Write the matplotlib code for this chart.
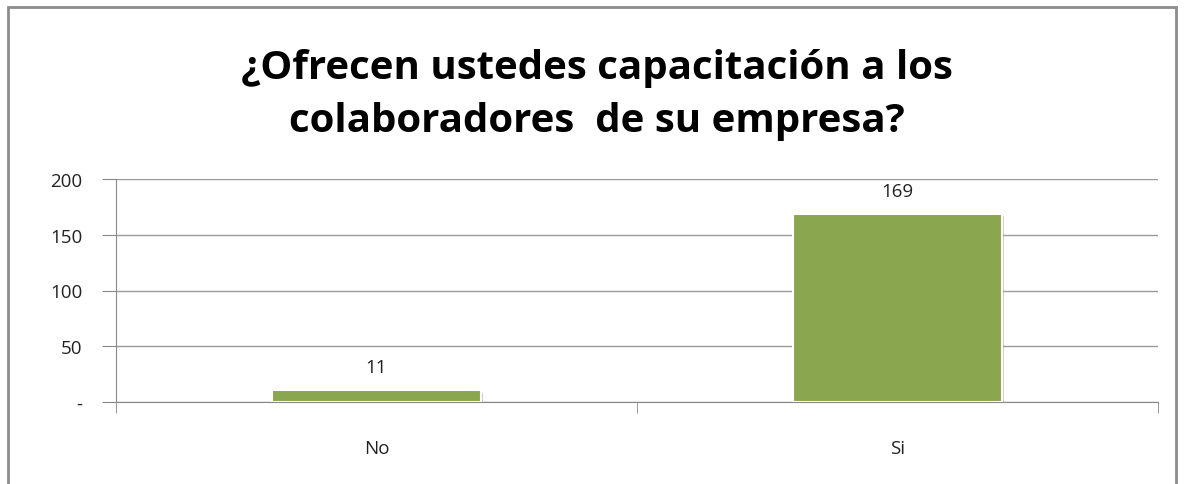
import matplotlib
matplotlib.use("Agg")
from matplotlib import pyplot as plt
from matplotlib.patches import Rectangle
import matplotlib.patheffects as pe

categories = ["No", "Si"]
values = [11, 169]
yticks = [0, 50, 100, 150, 200]
ytick_labels = ["-", "50", "100", "150", "200"]
title = "¿Ofrecen ustedes capacitación a los\ncolaboradores  de su empresa?"

plt.rcParams["font.family"] = ["Open Sans", "DejaVu Sans"]

fig = plt.figure(figsize=(11.86, 4.85), dpi=100)
fig.patches.append(Rectangle((8 / 1186, -0.05), (1176 - 8) / 1186, 1.05 - 8 / 485,
                             transform=fig.transFigure, fill=False,
                             edgecolor="#8c8c8c", linewidth=2))

ax = fig.add_axes([116 / 1186, 1 - 403 / 485, (1158 - 116) / 1186, (403 - 180) / 485])
x = list(range(len(categories)))
bars = ax.bar(x, values, width=0.4, color="#8aa64e", edgecolor="white", linewidth=1.5,
              zorder=3)
for b in bars:
    b.set_path_effects([pe.SimplePatchShadow(offset=(2, -2), shadow_rgbFace="#999999", alpha=0.5),
                        pe.Normal()])
for xi, v in zip(x, values):
    ax.text(xi, v + 12, str(v), ha="center", va="bottom", fontsize=13.5, color="#222222")

ax.set_xlim(-0.5, len(categories) - 0.5)
ax.set_ylim(0, 200)
ax.set_yticks(yticks)
ax.set_yticklabels(ytick_labels, fontsize=13.5, color="#222222")
ax.set_xticks(x)
ax.set_xticklabels(categories, fontsize=13.5, color="#222222")
ax.tick_params(axis="x", length=0, pad=27)
ax.tick_params(axis="y", length=10, color="#888888", pad=14)
ax.set_xticks([-0.5, 0.5, 1.5], minor=True)
ax.tick_params(axis="x", which="minor", length=8, color="#888888")
ax.grid(axis="y", color="#999999", linewidth=1, zorder=0)
for s in ["top", "right"]:
    ax.spines[s].set_visible(False)
for s in ["left", "bottom"]:
    ax.spines[s].set_color("#888888")

fig.text(597 / 1186, 1 - 95 / 485, title, ha="center", va="center", fontsize=29,
         fontweight="bold", linespacing=1.45)

fig.savefig("out.png")
